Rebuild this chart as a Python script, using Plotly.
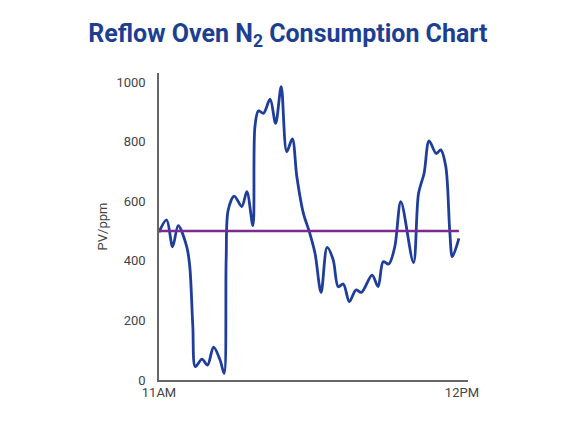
import plotly.graph_objects as go

# time in minutes after 11AM
minutes = [0, 1.5, 2.7, 3.8, 5.5, 6.1, 6.7, 7.2, 8.5, 9.6, 10.8, 12.1, 12.9, 13.3, 13.7,
           14.9, 16.4, 17.4, 18.6, 19.0, 19.7, 20.7, 22.0, 23.1, 24.2, 25.3, 26.4, 27.3,
           28.6, 29.8, 30.9, 32.1, 33.3, 34.5, 35.5, 36.5, 37.7, 39.0, 40.1, 42.2, 43.4,
           44.4, 45.5, 46.7, 47.9, 50.4, 51.4, 52.5, 53.5, 54.9, 55.8, 56.8, 57.6, 58.1, 59.4]
pv_ppm = [496, 537, 447, 518, 447, 380, 179, 45, 70, 50, 110, 67, 22, 403, 570,
          617, 582, 632, 518, 850, 903, 895, 942, 861, 984, 766, 809, 682,
          559, 496, 425, 294, 445, 403, 313, 322, 263, 302, 294, 352, 313,
          397, 389, 447, 598, 394, 626, 693, 802, 760, 772, 716, 496, 414, 475]
setpoint = 500
setpoint_span = [0, 59.4]
tick_vals = [0, 60]
tick_text = ["11AM", "12PM"]
y_ticks = [0, 200, 400, 600, 800, 1000]

fig = go.Figure()
fig.add_trace(go.Scatter(x=minutes, y=pv_ppm, mode="lines",
                         line=dict(color="#1f3e9c", width=2.8, shape="spline", smoothing=0.9),
                         showlegend=False))
fig.add_trace(go.Scatter(x=setpoint_span, y=[setpoint, setpoint], mode="lines",
                         line=dict(color="#7b2a90", width=2.6), showlegend=False))

fig.update_layout(
    width=576, height=432,
    paper_bgcolor="white", plot_bgcolor="white",
    margin=dict(l=151, r=116, t=65, b=60),
    title=dict(text="Reflow Oven N<sub>2</sub> Consumption Chart", x=0.486, xanchor="center",
               y=0.942, yanchor="middle", automargin=False,
               font=dict(family="Roboto", size=25, color="#1c3f94", weight="bold")),
    font=dict(family="Roboto", color="#444"),
)
fig.update_xaxes(range=[0, 61.2], tickvals=tick_vals, ticktext=tick_text, showgrid=False,
                 zeroline=False, showline=True, linecolor="#666", linewidth=1.5,
                 ticks="", automargin=False, tickfont=dict(size=13, color="#444"))
fig.update_yaxes(range=[0, 1030], tickvals=y_ticks, showgrid=False, zeroline=False,
                 showline=True, linecolor="#666", linewidth=1.5, ticks="", automargin=False,
                 ticklabelstandoff=9,
                 tickfont=dict(size=13, color="#444"),
                 title=dict(text="PV/ppm", font=dict(size=13, color="#444"), standoff=6))
fig.write_html("out.html")
